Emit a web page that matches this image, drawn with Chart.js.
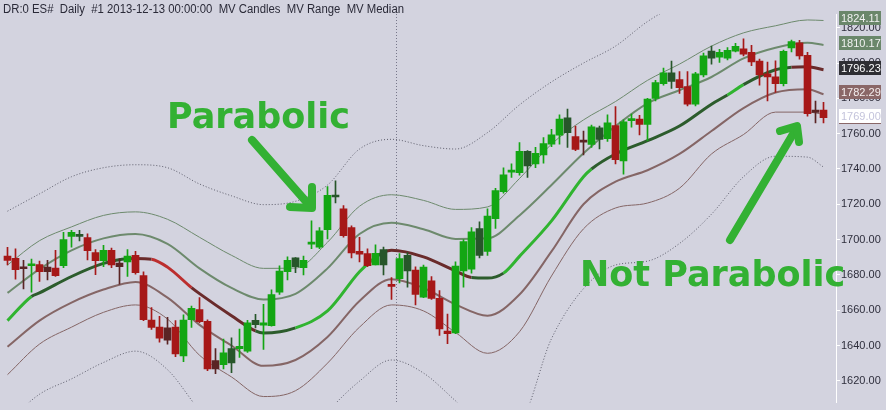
<!DOCTYPE html>
<html><head><meta charset="utf-8">
<script src="https://cdn.jsdelivr.net/npm/chart.js@4"></script>
<style>html,body{margin:0;padding:0;background:#d3d3df;overflow:hidden}#wrap{width:886px;height:410px;position:relative}</style>
</head><body><div id="wrap"><canvas id="c" width="886" height="410"></canvas></div>
<script>
// ---------- data ----------
const candleIndex = [0,1,2,3,4,5,6,7,8,9,10,11,12,13,14,15,16,17,18,19,20,21,22,23,24,25,26,27,28,29,30,31,32,33,34,35,36,37,38,39,40,41,42,43,44,45,46,47,48,49,50,51,52,53,54,55,56,57,58,59,60,61,62,63,64,65,66,67,68,69,70,71,72,73,74,75,76,77,78,79,80,81,82,83,84,85,86,87,88,89,90,91,92,93,94,95,96,97,98,99,100,101,102];
const open = [1690.6,1689.4,1683.5,1685.2,1685.9,1681.8,1683.9,1685.2,1701.8,1702.6,
  1701.1,1692.6,1688.0,1693.9,1684.6,1687.4,1691.1,1679.6,1654.4,1650.4,
  1643.0,1650.4,1634.1,1654.6,1660.4,1653.7,1626.8,1629.1,1638.2,1638.2,
  1636.8,1654.3,1651.5,1651.3,1670.2,1681.8,1689.6,1684.1,1697.4,1695.7,
  1705.6,1724.8,1717.4,1706.8,1693.3,1692.1,1685.7,1694.4,1674.4,1677.8,
  1691.1,1682.8,1667.4,1676.7,1666.7,1648.2,1647.2,1682.2,1683.3,1706.3,
  1693.3,1711.8,1727.2,1738.2,1737.9,1750.0,1742.9,1747.9,1754.1,1759.1,
  1768.9,1758.3,1755.2,1753.9,1763.3,1757.2,1764.6,1744.6,1767.4,1768.3,
  1765.2,1780.0,1788.3,1794.4,1790.6,1786.7,1776.7,1793.3,1806.8,1803.3,
  1802.8,1806.7,1808.0,1806.1,1801.1,1793.9,1792.2,1788.3,1808.5,1811.5,
  1804.4,1772.1,1773.3];
const high = [1695.6,1694.8,1688.3,1688.9,1687.8,1688.3,1693.9,1704.1,1705.2,1705.2,
  1703.3,1694.4,1696.7,1695.2,1689.1,1694.4,1693.3,1681.8,1661.5,1656.5,
  1656.0,1654.1,1657.4,1662.4,1667.1,1654.6,1638.2,1643.7,1644.3,1649.3,
  1654.3,1657.6,1663.3,1671.5,1685.2,1690.2,1689.8,1690.6,1710.6,1706.8,
  1730.0,1733.3,1719.3,1707.8,1701.3,1694.8,1697.1,1695.7,1678.5,1692.1,
  1692.6,1684.6,1685.6,1679.1,1671.1,1657.8,1687.4,1700.0,1706.8,1710.0,
  1717.4,1729.1,1740.7,1742.9,1755.0,1750.4,1752.2,1757.8,1762.4,1770.7,
  1773.9,1764.3,1761.5,1764.8,1764.3,1770.7,1775.4,1767.9,1771.1,1770.4,
  1780.0,1790.2,1797.1,1801.1,1795.2,1795.2,1794.8,1805.6,1809.6,1807.8,
  1808.7,1811.1,1813.7,1810.0,1802.2,1800.6,1801.3,1807.4,1813.0,1812.8,
  1806.0,1778.5,1777.8];
const low = [1685.6,1677.6,1672.1,1670.2,1676.3,1677.2,1679.1,1684.1,1695.7,1699.3,
  1688.5,1680.2,1684.6,1684.1,1674.8,1679.1,1680.4,1654.1,1649.1,1641.9,
  1640.7,1633.7,1630.9,1650.2,1653.0,1625.7,1624.1,1626.8,1624.6,1633.2,
  1636.1,1650.0,1637.8,1651.0,1668.9,1677.2,1681.3,1680.0,1694.8,1694.8,
  1700.4,1720.7,1701.3,1689.6,1687.4,1684.6,1685.6,1680.0,1666.1,1675.4,
  1673.0,1663.0,1667.1,1666.1,1645.7,1641.1,1646.7,1673.0,1681.0,1689.6,
  1691.1,1706.3,1726.3,1735.2,1736.5,1735.2,1740.7,1743.3,1752.6,1754.1,
  1752.2,1750.4,1747.9,1752.2,1751.3,1755.6,1742.9,1737.1,1763.7,1759.3,
  1756.0,1778.5,1787.4,1785.6,1782.8,1775.7,1775.7,1792.1,1799.4,1800.4,
  1801.8,1806.3,1804.1,1798.5,1787.4,1778.5,1783.3,1787.1,1806.3,1802.2,
  1769.9,1766.1,1766.1];
const close = [1688.2,1682.9,1684.1,1685.9,1681.8,1684.4,1679.6,1700.0,1704.1,1701.8,
  1693.7,1688.0,1693.9,1685.7,1686.7,1690.6,1681.3,1654.6,1650.2,1644.1,
  1650.0,1635.2,1654.4,1661.1,1653.5,1626.8,1631.5,1635.9,1630.2,1639.5,
  1652.8,1651.8,1652.8,1668.9,1682.2,1688.3,1684.6,1688.3,1698.3,1705.0,
  1725.0,1724.1,1702.2,1692.4,1691.8,1685.2,1692.2,1685.7,1673.5,1689.3,
  1682.2,1668.9,1684.4,1666.7,1649.4,1646.7,1685.0,1698.9,1704.4,1691.1,
  1713.3,1727.8,1736.7,1738.9,1750.0,1741.7,1748.9,1754.4,1759.4,1768.3,
  1760.6,1751.1,1756.1,1763.9,1756.7,1766.1,1745.2,1766.7,1768.5,1765.2,
  1779.6,1788.9,1794.4,1789.6,1786.1,1776.7,1793.9,1804.1,1802.8,1806.1,
  1807.2,1809.4,1805.0,1800.6,1793.3,1792.2,1788.3,1806.7,1812.2,1804.1,
  1771.3,1773.3,1769.0];
// candle colour class: G up, g dark up, R down, r dark down
const candleType = ['R','R','r','G','R','r','R','G','G','g',
  'R','R','G','R','r','G','R','R','R','R',
  'r','R','G','G','R','R','r','G','g','G',
  'G','g','G','G','G','G','g','G','G','G',
  'G','g','R','R','R','R','G','g','R','G',
  'g','R','G','R','R','R','G','G','G','g',
  'G','G','G','G','G','g','G','G','G','G',
  'g','R','r','G','g','G','R','G','G','R',
  'G','G','G','g','R','R','G','G','g','G',
  'G','G','R','R','R','R','R','G','G','R',
  'R','r','R'];

// MV Range bands, sampled at these candles
const bandIdx = [0,4,8,12,16,20,24,28,32,36,40,44,48,52,56,60,64,68,72,76,80,84,88,92,96,100,102];
const upper3 = [1716.1,1725.9,1735.6,1740.7,1742.4,1740.7,1731.5,1724.8,1719.8,1721.7,1730.9,1751.3,1756.8,1753.2,1751.3,1760.6,1776.3,1789.3,1800.0,1809.6,1823.5,1833.9,1841.1,1847.8,1852.2,1854.4,1853.9];
const upper2 = [1685.6,1699.4,1707.2,1713.7,1715.7,1711.5,1701.3,1691.1,1683.7,1683.9,1698.5,1718.9,1725.4,1722.2,1717.1,1718.5,1734.6,1754.1,1767.8,1778.2,1790.2,1799.4,1809.6,1817.1,1821.1,1824.4,1824.1];
const upper1 = [1669.8,1683.3,1693.9,1700.7,1703.2,1697.6,1683.7,1672.6,1666.1,1669.3,1683.7,1703.2,1709.6,1705.9,1700.4,1700.7,1713.7,1730.9,1748.9,1764.3,1777.2,1784.6,1792.1,1802.6,1808.7,1811.5,1810.2];
const lower1 = [1639.3,1654.1,1664.3,1671.7,1676.0,1667.1,1651.7,1640.0,1628.5,1631.8,1644.8,1665.2,1677.6,1672.6,1663.3,1656.9,1668.9,1693.3,1720.0,1732.8,1739.3,1748.5,1761.5,1774.5,1783.3,1785.2,1782.3];
const lower2 = [1623.5,1640.8,1650.4,1658.8,1663.0,1655.0,1634.5,1622.2,1611.1,1614.4,1630.0,1650.4,1663.0,1659.6,1647.4,1635.6,1647.8,1679.4,1706.1,1717.9,1720.7,1729.1,1748.5,1759.5,1772.2,1772.2,1771.0];
const lower3 = [1596.7,1612.4,1621.1,1630.4,1636.8,1626.3,1603.3,1584.4,1575.0,1578.9,1602.2,1619.8,1631.8,1624.4,1608.7,1592.8,1596.7,1643.9,1672.2,1685.6,1687.8,1697.8,1714.4,1735.6,1747.2,1746.7,1741.1];

// MV Median, sampled at these candles, with slope state of each following segment
const medianIdx = [0,3,4,8,12,15,16,18,20,23,24,28,31,32,36,40,44,46,47,48,52,56,58,60,62,64,68,72,73,76,80,84,88,90,92,96,98,100,102];
const median = [1654.1,1667.8,1669.8,1679.1,1686.5,1689.2,1689.3,1688.9,1684.4,1672.8,1669.4,1656.9,1648.3,1647.1,1650.0,1659.6,1681.8,1690.0,1692.8,1693.9,1690.2,1682.2,1678.5,1678.2,1681.0,1690.5,1710.6,1735.6,1740.0,1748.5,1756.0,1764.3,1776.7,1781.9,1787.8,1796.2,1797.6,1797.9,1796.2];
const medianState = ['G','g','g','g','g','r','r','R','R','r','r','r','g','g','G','G','G','g','r','r','r','r','g','g','G','G','G','G','g','g','g','g','g','G','g','g','r','r','r'];

// price tags on the axis
const tagValues = [1824.11, 1810.17, 1796.23, 1782.29, 1769.00];
const tagKinds  = ['band','band','median','lowband','last'];
const hiddenTagValue = 1768.35;

const yTicks = [1620,1640,1660,1680,1700,1720,1740,1760,1780,1800,1820];
const titleText = 'DR:0 ES#  Daily  #1 2013-12-13 00:00:00  MV Candles  MV Range  MV Median';
const note1 = 'Parabolic';
const note2 = 'Not Parabolic';

// ---------- styles ----------
const BG = '#d3d3df';
const candleColors = {G:'#13a613', g:'#27562a', R:'#a61818', r:'#5a2424'};
const medianColors = {G:'#30b430', g:'#2c5c2c', R:'#bc2e2e', r:'#6a2b2b'};
const bandGreen = '#6d8a6d';
const bandBrown = '#856666';
const dotColor = '#5e5e6c';
const arrowGreen = '#33b133';

const pts = (idx, vals) => idx.map((x, k) => ({x, y: vals[k]}));
const lineDs = (vals, color, width, dash, order) => ({
  type: 'line', data: pts(bandIdx, vals), borderColor: color, borderWidth: width,
  borderDash: dash, pointRadius: 0, fill: false, cubicInterpolationMode: 'monotone',
  spanGaps: true, order
});

const overlay = {
  id: 'overlay',
  beforeDraw(chart) {
    const c = chart.ctx;
    c.save(); c.fillStyle = BG; c.fillRect(0, 0, chart.width, chart.height); c.restore();
  },
  beforeDatasetsDraw(chart) {
    const c = chart.ctx, a = chart.chartArea;
    c.save();
    c.fillStyle = '#77778a';
    for (let y = Math.ceil(a.top); y < a.bottom; y += 3) c.fillRect(396, y, 1, 1);
    c.restore();
  },
  afterDraw(chart) {
    const c = chart.ctx, ys = chart.scales.y;
    c.save();
    // title (fit to the reference's text run)
    c.font = '12px "Liberation Sans", Arial, sans-serif';
    c.fillStyle = '#2a2a38';
    c.textBaseline = 'alphabetic';
    const tw = c.measureText(titleText).width;
    c.save(); c.translate(3, 13); c.scale(401 / tw, 1); c.fillText(titleText, 0, 0); c.restore();
    // price tags
    c.font = '11px "Liberation Sans", Arial, sans-serif';
    c.textBaseline = 'middle';
    const boxAt = (v) => Math.max(ys.getPixelForValue(v) - 2, 17);
    let hy = boxAt(hiddenTagValue);
    c.fillStyle = '#8a6868'; c.fillRect(839, Math.round(hy - 7), 42, 14);
    const tagBg = {band:'#6a876a', median:'#2e2e33', lowband:'#8a6767', last:'#ffffff'};
    const tagFg = {band:'#f2f2f2', median:'#ffffff', lowband:'#f4eeee', last:'#c4c4dc'};
    tagValues.forEach((v, k) => {
      const kind = tagKinds[k];
      const cy = Math.round(boxAt(v));
      c.fillStyle = tagBg[kind];
      c.fillRect(839, cy - 7, 42, 14);
      c.fillStyle = tagFg[kind];
      c.fillText(v.toFixed(2), 841, cy + 0.5);
    });
    // annotations
    c.fillStyle = arrowGreen;
    c.font = 'bold 35px "DejaVu Sans", sans-serif';
    c.textBaseline = 'alphabetic';
    c.fillText(note1, 167, 128);
    c.fillText(note2, 580, 286);
    c.strokeStyle = arrowGreen;
    c.lineWidth = 8; c.lineCap = 'round'; c.lineJoin = 'round';
    c.beginPath(); c.moveTo(252, 140); c.lineTo(310, 206); c.stroke();
    c.beginPath(); c.moveTo(312, 187); c.lineTo(312, 208); c.lineTo(290, 207); c.stroke();
    c.beginPath(); c.moveTo(730, 240); c.lineTo(796, 129); c.stroke();
    c.beginPath(); c.moveTo(780, 131); c.lineTo(797, 126); c.lineTo(799, 142); c.stroke();
    c.restore();
  }
};

const chart = new Chart(document.getElementById('c'), {
  type: 'line',
  data: {
    datasets: [
      { type: 'bar', data: candleIndex.map(i => ({x: i, y: [low[i], high[i]]})),
        barThickness: 1, grouped: false, borderWidth: 0, borderSkipped: false,
        backgroundColor: ctx => candleColors[candleType[ctx.dataIndex]], order: 1 },
      { type: 'bar', data: candleIndex.map(i => ({x: i, y: [Math.min(open[i], close[i]), Math.max(open[i], close[i])]})),
        barThickness: 7, minBarLength: 2, grouped: false, borderWidth: 0, borderSkipped: false,
        backgroundColor: ctx => candleColors[candleType[ctx.dataIndex]], order: 0 },
      { type: 'line', data: pts(medianIdx, median), borderWidth: 3, pointRadius: 0, fill: false,
        cubicInterpolationMode: 'monotone', spanGaps: true, order: 5,
        borderColor: medianColors.g,
        segment: { borderColor: ctx => medianColors[medianState[ctx.p0DataIndex]] } },
      lineDs(upper1, bandGreen, 2, [], 6),
      lineDs(upper2, bandGreen, 1, [], 7),
      lineDs(upper3, dotColor, 1, [1, 2], 8),
      lineDs(lower1, bandBrown, 2, [], 6),
      lineDs(lower2, bandBrown, 1, [], 7),
      lineDs(lower3, dotColor, 1, [1, 2], 8)
    ]
  },
  options: {
    responsive: false, animation: false, events: [],
    layout: { padding: { top: 14, left: 0, right: 0, bottom: 0 } },
    plugins: { legend: { display: false }, tooltip: { enabled: false }, title: { display: false } },
    scales: {
      x: { type: 'linear', display: false, min: -0.9375, max: 103.5625, offset: false },
      y: {
        position: 'right', min: 1607.78, max: 1827.78, beginAtZero: false,
        afterFit: s => { s.width = 50; },
        afterBuildTicks: s => { s.ticks = yTicks.map(v => ({value: v})); },
        border: { display: true, color: '#ffffff', width: 1 },
        grid: { drawOnChartArea: false, drawTicks: true, tickLength: 4, color: '#ffffff' },
        ticks: { callback: v => Number(v).toFixed(2), color: '#2e2e3c', padding: 1,
                 font: { family: '"Liberation Sans", Arial, sans-serif', size: 11 } }
      }
    }
  },
  plugins: [overlay]
});
</script></body></html>
